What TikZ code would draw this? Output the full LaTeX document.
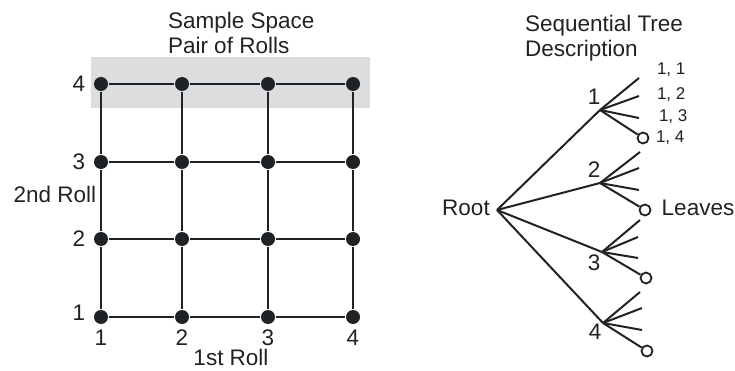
\documentclass[tikz,border=0pt]{standalone}
\usepackage{fontspec}
\setmainfont{Liberation Sans}
\definecolor{ink}{HTML}{1F2326}
\definecolor{band}{HTML}{DCDDDF}
\begin{document}
\begin{tikzpicture}[x=1pt,y=-1pt,line width=2pt,color=ink,
  every node/.style={font=\fontsize{22.5}{25.5}\selectfont,inner sep=0pt},
  dot/.style={circle,fill=ink,minimum size=14pt},
  leaf/.style={circle,draw=ink,fill=white,minimum size=11pt,line width=1.8pt},
  small/.style={font=\fontsize{17}{20}\selectfont}]
\useasboundingbox (0,0) rectangle (735,371);
\fill[band] (91,57) rectangle (370,108);
\node[anchor=north west,align=left] (space) at (167,11) {Sample Space\\Pair of Rolls};
\node[dot] (11) at (101,317) {};
\node[dot] (12) at (101,239) {};
\node[dot] (13) at (101,162) {};
\node[dot] (14) at (101,84) {};
\node[dot] (21) at (182,317) {};
\node[dot] (22) at (182,239) {};
\node[dot] (23) at (182,162) {};
\node[dot] (24) at (182,84) {};
\node[dot] (31) at (268,317) {};
\node[dot] (32) at (268,239) {};
\node[dot] (33) at (268,162) {};
\node[dot] (34) at (268,84) {};
\node[dot] (41) at (353,317) {};
\node[dot] (42) at (353,239) {};
\node[dot] (43) at (353,162) {};
\node[dot] (44) at (353,84) {};
\draw (11) -- (21) -- (31) -- (41);
\draw (12) -- (22) -- (32) -- (42);
\draw (13) -- (23) -- (33) -- (43);
\draw (14) -- (24) -- (34) -- (44);
\draw (11) -- (12) -- (13) -- (14);
\draw (21) -- (22) -- (23) -- (24);
\draw (31) -- (32) -- (33) -- (34);
\draw (41) -- (42) -- (43) -- (44);
\node (y1) at (79,313) {1};
\node (y2) at (79,239) {2};
\node (y3) at (79,162) {3};
\node (y4) at (79,84) {4};
\node (x1) at (101,338) {1};
\node (x2) at (182,338) {2};
\node (x3) at (268,338) {3};
\node (x4) at (353,338) {4};
\node (first) at (231,357) {1st Roll};
\node (second) at (55,194) {2nd Roll};
\node[anchor=north west,align=left] (tree) at (524,14) {Sequential Tree\\Description};
\coordinate (root) at (497,210);
\coordinate (t1) at (600,110);
\coordinate (t2) at (600,183);
\coordinate (t3) at (602,252);
\coordinate (t4) at (603,323);
\coordinate (l11) at (639,78);
\coordinate (l12) at (639,96);
\coordinate (l13) at (639,118);
\node[leaf] (l14) at (643,138) {};
\coordinate (l21) at (640,152);
\coordinate (l22) at (639,168);
\coordinate (l23) at (639,190);
\node[leaf] (l24) at (645,210) {};
\coordinate (l31) at (640,220);
\coordinate (l32) at (638,237);
\coordinate (l33) at (638,258);
\node[leaf] (l34) at (646,278) {};
\coordinate (l41) at (640,292);
\coordinate (l42) at (642,308);
\coordinate (l43) at (642,330);
\node[leaf] (l44) at (647,351) {};
\draw (root) -- (t1);
\draw (root) -- (t2);
\draw (root) -- (t3);
\draw (root) -- (t4);
\draw (t1) -- (l11);
\draw (t1) -- (l12);
\draw (t1) -- (l13);
\draw (t1) -- (l14);
\draw (t2) -- (l21);
\draw (t2) -- (l22);
\draw (t2) -- (l23);
\draw (t2) -- (l24);
\draw (t3) -- (l31);
\draw (t3) -- (l32);
\draw (t3) -- (l33);
\draw (t3) -- (l34);
\draw (t4) -- (l41);
\draw (t4) -- (l42);
\draw (t4) -- (l43);
\draw (t4) -- (l44);
\node (rootlabel) at (466,208) {Root};
\node (n1) at (594,97) {1};
\node (n2) at (594,170) {2};
\node (n3) at (594,263) {3};
\node (n4) at (595,332) {4};
\node[small,anchor=base west] (p11) at (656,75) {1, 1};
\node[small,anchor=base west] (p12) at (656,100) {1, 2};
\node[small,anchor=base west] (p13) at (658,122) {1, 3};
\node[small,anchor=base west] (p14) at (655,143) {1, 4};
\node (leaves) at (698,208) {Leaves};
\end{tikzpicture}
\end{document}
